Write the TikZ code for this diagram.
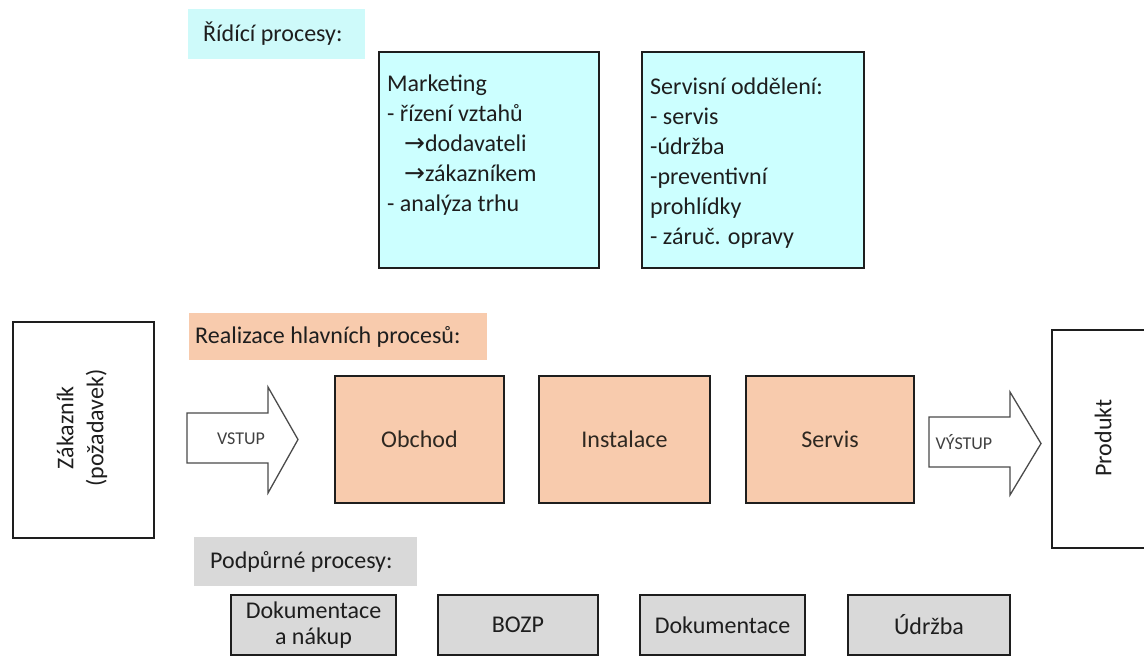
\documentclass[tikz,border=0pt]{standalone}
\usepackage{fontspec}
\setmainfont{Carlito}
\newfontfamily\arrowfont{DejaVu Sans}
\definecolor{cyanfill}{RGB}{204,255,255}
\definecolor{labelcyan}{RGB}{206,250,250}
\definecolor{peach}{RGB}{248,203,173}
\definecolor{grayfill}{RGB}{217,217,217}
\definecolor{ink}{RGB}{30,30,30}
\newcommand{\rarr}{{\arrowfont\fontsize{25}{30}\selectfont →}}
\tikzset{
  frame/.style={draw=ink, line width=1.8pt, inner sep=0pt},
  ctrlbox/.style={frame, fill=cyanfill},
  procbox/.style={frame, fill=peach, text=ink!90!brown},
  supbox/.style={frame, fill=grayfill, align=center, font=\fontsize{24}{26}\selectfont},
  sidebox/.style={frame, fill=white},
  labelbox/.style={inner sep=0pt},
  labeltext/.style={anchor=west, inner sep=0pt, text=ink},
  listtext/.style={anchor=north west, inner sep=0pt, align=left, text=ink,
                   font=\fontsize{24}{30}\selectfont},
  blockarrow/.style={draw=ink!80, line width=1.3pt, fill=white, line join=miter},
  arrowtext/.style={inner sep=0pt, text=ink!85, font=\fontsize{18}{22}\selectfont}
}
\begin{document}
\begin{tikzpicture}[x=1pt, y=-1pt, font=\fontsize{24}{30}\selectfont, text=ink]
\clip (0,0) rectangle (1144,657);
\fill[white] (0,0) rectangle (1144,657);

% control processes
\node[labelbox, fill=labelcyan, minimum width=177, minimum height=50] (ridici) at (276.5,34) {};
\node[labeltext] (ridicitxt) at (203,34) {Řídící procesy:};

\node[ctrlbox, minimum width=220, minimum height=216] (marketing) at (489,160) {};
\node[listtext] (marketingtxt) at (387,75) {Marketing\\
- řízení vztahů\\
\hspace*{17pt}\rarr dodavateli\\
\hspace*{17pt}\rarr zákazníkem\\
- analýza trhu};

\node[ctrlbox, minimum width=222, minimum height=216] (servisodd) at (753,160) {};
\node[listtext] (servisoddtxt) at (650,78) {Servisní oddělení:\\
- servis\\
-údržba\\
-preventivní\\
prohlídky\\
- záruč. opravy};

% main processes
\node[labelbox, fill=peach, minimum width=298, minimum height=47] (realizace) at (338,336.5) {};
\node[labeltext] (realizacetxt) at (195,336.5) {Realizace hlavních procesů:};

\node[sidebox, minimum width=141, minimum height=216] (zakaznik) at (83.5,430) {};
\node[rotate=90, align=center, inner sep=0pt, text=ink] (zakazniktxt) at (82,428)
      {Zákazník\\(požadavek)};

\draw[blockarrow] (187,413) -- (268,413) -- (268,387) -- (298,439.5)
   -- (268,493) -- (268,463) -- (187,463) -- cycle;
\node[arrowtext] (vstup) at (241,439) {VSTUP};

\node[procbox, minimum width=169, minimum height=127] (obchod) at (419.5,439.5) {Obchod};
\node[procbox, minimum width=171, minimum height=127] (instalace) at (624.5,439.5) {Instalace};
\node[procbox, minimum width=168, minimum height=127] (servis) at (830,439.5) {Servis};

\draw[blockarrow] (929,417) -- (1010,417) -- (1010,392) -- (1041,443.5)
   -- (1010,495) -- (1010,467) -- (929,467) -- cycle;
\node[arrowtext] (vystup) at (964,442) {VÝSTUP};

\node[sidebox, minimum width=102, minimum height=218] (produkt) at (1103,439) {};
\node[rotate=90, inner sep=0pt, text=ink] (produkttxt) at (1103,438) {Produkt};

% support processes
\node[labelbox, fill=grayfill, minimum width=223, minimum height=49] (podpurne) at (305.5,561.5) {};
\node[labeltext] (podpurnetxt) at (210,561.5) {Podpůrné procesy:};

\node[supbox, minimum width=165, minimum height=60] (doknakup) at (313.5,625) {Dokumentace\\a nákup};
\node[supbox, minimum width=160, minimum height=60] (bozp) at (518,625) {BOZP};
\node[supbox, minimum width=165, minimum height=60] (dokumentace) at (722.5,625) {Dokumentace};
\node[supbox, minimum width=162, minimum height=60] (udrzba) at (929,625) {Údržba};
\end{tikzpicture}
\end{document}
